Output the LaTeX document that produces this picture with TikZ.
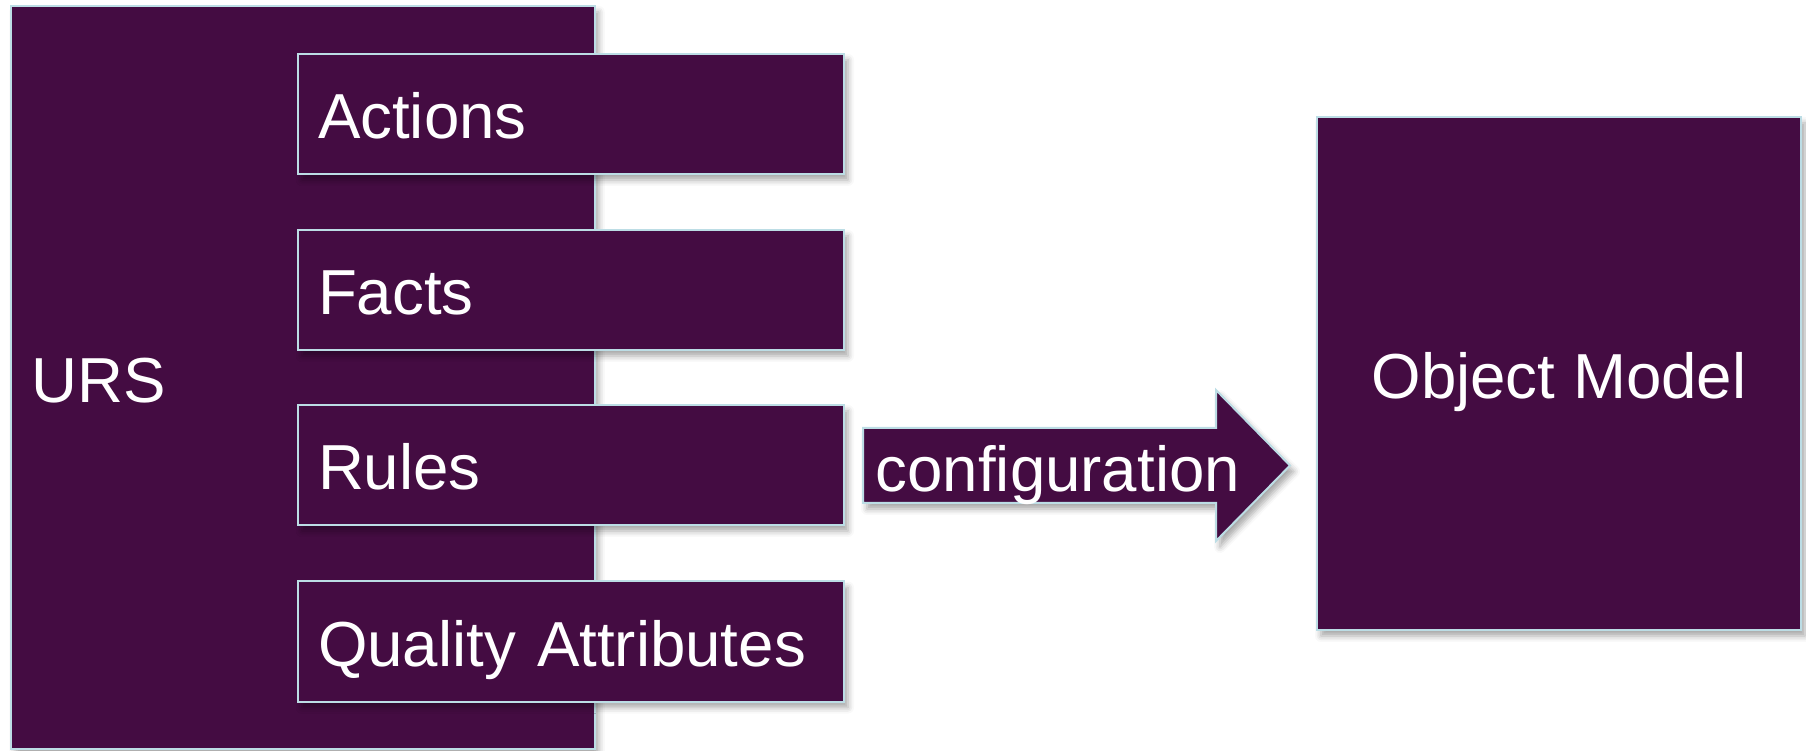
\documentclass[tikz,border=0pt]{standalone}
\usepackage{fontspec}
\setmainfont{Liberation Sans}
\usetikzlibrary{shadows.blur}
\definecolor{urspurple}{HTML}{440C42}
\definecolor{edgeblue}{HTML}{BCDDE5}

\begin{document}
\begin{tikzpicture}[auto, scale = 1,
		block/.style = {draw = edgeblue, line width = 0.2mm, fill = urspurple, text = white,
			font = \fontsize{18.1}{20}\selectfont, text height = 5mm, text depth = 0pt,
			inner xsep = 2.0mm, inner ysep = 0pt, outer sep = 0pt,
			blur shadow = {shadow xshift = 0.4mm, shadow yshift = -0.6mm,
				shadow blur radius = 0.6mm, shadow opacity = 35}},
		part/.style = {block, minimum height = 1.20cm, text width = 5.06cm, align = left},
		lbl/.style = {text = white, font = \fontsize{18.1}{20}\selectfont, inner sep = 0pt}]
		\useasboundingbox (0, 0) rectangle (18.06, 7.5);
		%%%%%%%%%%%%%
		\node [block, minimum height = 7.43cm, text width = 5.435cm, align = left] (urs) at (3.03, 3.725) {URS};
		\node [part] (actions) at (5.71, 6.36) {Actions};
		\node [part] (facts) at (5.71, 4.60) {Facts};
		\node [part] (rules) at (5.71, 2.85) {Rules};
		\node [part] (quality) at (5.71, 1.085) {Quality Attributes};
		\node [block, minimum width = 4.84cm, minimum height = 5.13cm] (model) at (15.59, 3.765) {Object Model};
		%%%%%%%%%%%%%
		\draw [draw = edgeblue, line width = 0.2mm, fill = urspurple,
			blur shadow = {shadow xshift = 0.4mm, shadow yshift = -0.6mm,
				shadow blur radius = 0.6mm, shadow opacity = 35}]
			(8.63, 3.22) -- (12.16, 3.22) -- (12.16, 3.60) -- (12.90, 2.845)
			-- (12.16, 2.09) -- (12.16, 2.47) -- (8.63, 2.47) -- cycle;
		\node [lbl, anchor = base west] (config) at (8.75, 2.58) {configuration};
\end{tikzpicture}
\end{document}
